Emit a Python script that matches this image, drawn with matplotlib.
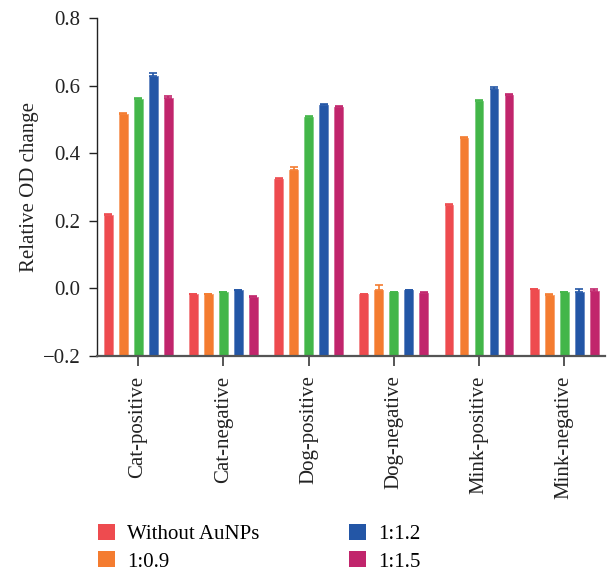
import numpy as np
import matplotlib
matplotlib.use("Agg")
import matplotlib.pyplot as plt
from matplotlib.patches import Patch

plt.rcParams['font.family'] = ['Liberation Serif', 'DejaVu Serif']

categories = ["Cat-positive", "Cat-negative", "Dog-positive",
              "Dog-negative", "Mink-positive", "Mink-negative"]
series_names = ["Without AuNPs", "1:0.9", "1:1.0", "1:1.2", "1:1.5"]
colors = ["#EE4B4F", "#F47C30", "#43B649", "#2356A6", "#C1256C"]
edge_colors = ["#F28A8D", "#F7A470", "#82CF86", "#6A8CC4", "#D66A9B"]

without_aunps = [0.216, -0.018, 0.323, -0.018, 0.246, -0.003]
ratio_0_9 = [0.516, -0.018, 0.350, -0.006, 0.445, -0.020]
ratio_1_0 = [0.559, -0.012, 0.506, -0.012, 0.553, -0.012]
ratio_1_2 = [0.628, -0.006, 0.542, -0.006, 0.589, -0.010]
ratio_1_5 = [0.562, -0.024, 0.537, -0.013, 0.571, -0.008]

err_without = [0.004, 0.002, 0.004, 0.002, 0.003, 0.000]
err_0_9 = [0.004, 0.002, 0.010, 0.016, 0.004, 0.002]
err_1_0 = [0.004, 0.000, 0.004, 0.000, 0.004, 0.000]
err_1_2 = [0.008, 0.000, 0.004, 0.002, 0.007, 0.008]
err_1_5 = [0.006, 0.003, 0.003, 0.002, 0.005, 0.007]

values = [without_aunps, ratio_0_9, ratio_1_0, ratio_1_2, ratio_1_5]
errors = [err_without, err_0_9, err_1_0, err_1_2, err_1_5]

y_min, y_max = -0.2, 0.8

fig = plt.figure(figsize=(6.07, 5.71), dpi=100)
ax = fig.add_axes([0.160, 0.3765, 0.837, 0.592])

x = np.arange(len(categories))
step = 0.176
width = 0.105
for i, (vals, errs, c, ec) in enumerate(zip(values, errors, colors,
                                            edge_colors)):
    pos = x + (i - 2) * step
    vals = np.asarray(vals)
    # bars rise from the bottom of the value axis
    ax.bar(pos, vals - y_min, bottom=y_min, width=width, color=c,
           edgecolor=ec, linewidth=0.7, zorder=2)
    ax.errorbar(pos, vals, yerr=[np.zeros(len(vals)), errs], fmt='none',
                ecolor=c, elinewidth=1.2, capsize=3, capthick=1.2,
                zorder=3)

ax.set_xlim(-0.48, 5.48)
ax.set_ylim(y_min, y_max)
ax.set_yticks([-0.2, 0.0, 0.2, 0.4, 0.6, 0.8])
ax.set_yticklabels(["\u22120.2", "0.0", "0.2", "0.4", "0.6", "0.8"])
ax.set_xticks(x)
ax.set_xticklabels(categories, rotation=90)
ax.tick_params(axis='y', labelsize=15, direction='out', length=6,
               width=1.0, colors='#222222', pad=6)
ax.tick_params(axis='x', labelsize=15, direction='out', length=7,
               width=1.4, colors='#555555', labelcolor='#222222', pad=7)
ax.set_ylabel("Relative OD change", fontsize=15, labelpad=3,
              color='#222222')

for s in ['top', 'right']:
    ax.spines[s].set_visible(False)
ax.spines['left'].set_color('#222222')
ax.spines['bottom'].set_color('#555555')
ax.spines['left'].set_linewidth(1.0)
ax.spines['bottom'].set_linewidth(1.6)

handles = [Patch(facecolor=colors[k], edgecolor='none') for k in (0, 1, 3, 4)]
labels = [series_names[k] for k in (0, 1, 3, 4)]
fig.legend(handles, labels, ncol=2, loc='upper left',
           bbox_to_anchor=(0.1614, 0.083), frameon=False, fontsize=15,
           handlelength=0.8, handleheight=0.8, handletextpad=0.6,
           columnspacing=4.3, labelspacing=0.36, borderaxespad=0,
           borderpad=0)

fig.savefig("out.png", dpi=100)
